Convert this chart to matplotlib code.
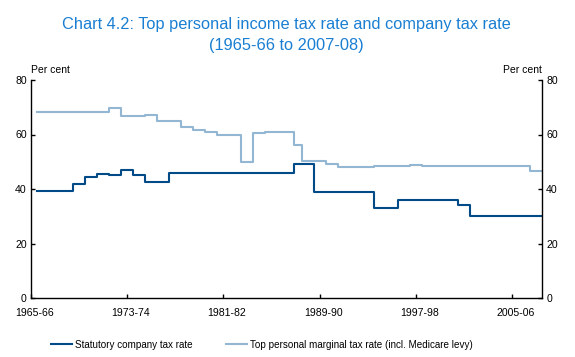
import matplotlib
matplotlib.use('Agg')
import matplotlib.pyplot as plt
import numpy as np
from matplotlib.lines import Line2D

plt.rcParams['font.family'] = ['Liberation Sans', 'DejaVu Sans']

# Change points: start year of the financial year in which each rate took effect
company_years = [1965, 1968, 1969, 1970, 1971, 1972, 1973, 1974, 1976,
                 1986.4, 1988, 1993, 1995, 2000, 2001, 2007]
company_rate = [39.4, 41.8, 44.3, 45.4, 45.0, 46.9, 45.0, 42.5, 45.8,
                49.1, 38.8, 33.0, 36.0, 34.0, 30.0, 30.0]

personal_years = [1965, 1971, 1972, 1974, 1975, 1977, 1978, 1979, 1980,
                  1982, 1983, 1984, 1986.4, 1987, 1989, 1990, 1993, 1996,
                  1997, 2006, 2007]
personal_rate = [68.1, 69.6, 66.7, 67.0, 64.8, 62.6, 61.7, 60.8, 59.7,
                 49.8, 60.4, 60.8, 56.0, 50.2, 49.1, 48.0, 48.4, 48.8,
                 48.4, 46.5, 46.5]

tick_years = [1965, 1973, 1981, 1989, 1997, 2005]
tick_labels = ['1965-66', '1973-74', '1981-82', '1989-90', '1997-98', '2005-06']
y_ticks = [0, 20, 40, 60, 80]

series_names = ['Statutory company tax rate',
                'Top personal marginal tax rate (incl. Medicare levy)']

DARK = '#004b87'
LIGHT = '#93b6d2'
TITLE = '#1a7fd2'

W, H = 575, 357
fig = plt.figure(figsize=(W / 100, H / 100), dpi=100)
ax = fig.add_axes([31 / W, 1 - 298 / H, (542 - 31) / W, (298 - 80) / H])

ax.step(personal_years, personal_rate, where='post', color=LIGHT, lw=1.5)
ax.step(company_years, company_rate, where='post', color=DARK, lw=1.5)

ax.set_xlim(1964.5, 2007.0)
ax.set_ylim(0, 80)

ax.spines['top'].set_visible(False)
for s in ['left', 'right', 'bottom']:
    ax.spines[s].set_linewidth(1.0)
    ax.spines[s].set_color('black')

# x: tick marks between categories, labels near category centres
ax.set_xticks(np.array(tick_years) - 0.5)
ax.set_xticklabels([])
ax.set_xticks(np.array(tick_years) - 0.2, minor=True)
ax.set_xticklabels(tick_labels, minor=True)
ax.tick_params(axis='x', which='major', direction='in', length=3, width=1)
ax.tick_params(axis='x', which='minor', length=0, pad=7, labelsize=7.6)

ax.set_yticks(y_ticks)
ax.set_yticklabels([str(v) for v in y_ticks])
ax.tick_params(axis='y', direction='in', length=3, width=1, left=True,
               right=True, labelleft=True, labelright=True, labelsize=7.6, pad=3)

ax.text(0, 1.045, 'Per cent', transform=ax.transAxes, ha='left', va='center', fontsize=7.5)
ax.text(1, 1.045, 'Per cent', transform=ax.transAxes, ha='right', va='center', fontsize=7.5)

fig.text(286 / W, 1 - 25 / H, 'Chart 4.2: Top personal income tax rate and company tax rate',
         ha='center', va='center', fontsize=11.8, color=TITLE)
fig.text(286 / W, 1 - 45.5 / H, '(1965-66 to 2007-08)',
         ha='center', va='center', fontsize=11.8, color=TITLE)

handles = [Line2D([], [], color=DARK, lw=1.5), Line2D([], [], color=LIGHT, lw=1.5)]
fig.legend(handles, series_names, loc='center', bbox_to_anchor=(262 / W, 1 - 344.5 / H),
           ncol=2, frameon=False, fontsize=7.1, handlelength=2.1, handletextpad=0.3,
           columnspacing=3.4)

fig.savefig('out.png', dpi=100)
